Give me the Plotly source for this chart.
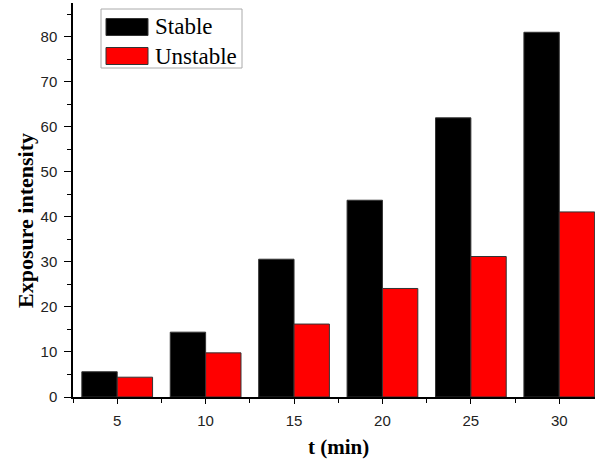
import plotly.graph_objects as go

t_min = [5, 10, 15, 20, 25, 30]
stable = [5.6, 14.4, 30.6, 43.7, 62.0, 81.0]
unstable = [4.4, 9.8, 16.2, 24.1, 31.2, 41.1]
series_names = ["Stable", "Unstable"]
series_colors = ["#000000", "#ff0000"]
x_title = "t (min)"
y_title = "Exposure intensity"

fig = go.Figure()
for name, vals, col in zip(series_names, [stable, unstable], series_colors):
    fig.add_trace(go.Bar(
        x=t_min, y=vals, name=name, showlegend=False,
        marker=dict(color=col, line=dict(color="#333333", width=1)),
    ))

W, H = 595, 462
ml, mr, mt, mb = 73, 0, 3, 65
pw, ph = W - ml - mr, H - mt - mb

def px_to_paper(x, y):
    return (x - ml) / pw, (H - mb - y) / ph

# custom legend (wide swatches like the original)
lx0, ly0 = px_to_paper(101, 9)
lx1, ly1 = px_to_paper(242, 68)
fig.add_shape(type="rect", xref="paper", yref="paper", x0=lx0, y0=ly1, x1=lx1, y1=ly0,
              line=dict(color="#aaaaaa", width=1), fillcolor="white", layer="above")
row_y = [27, 56]
for name, col, ry in zip(series_names, series_colors, row_y):
    sx0, sy0 = px_to_paper(106, ry - 8.5)
    sx1, sy1 = px_to_paper(148, ry + 8.5)
    fig.add_shape(type="rect", xref="paper", yref="paper", x0=sx0, y0=sy1, x1=sx1, y1=sy0,
                  line=dict(color="#333333", width=1), fillcolor=col, layer="above")
    tx, ty = px_to_paper(153, ry)
    fig.add_annotation(text=name, xref="paper", yref="paper", x=tx, y=ty,
                       xanchor="left", yanchor="middle", showarrow=False,
                       font=dict(family="Liberation Serif", size=23, color="#000000"))

# axis titles
ax, ay = px_to_paper(25, 221)
fig.add_annotation(text="<b>" + y_title + "</b>", xref="paper", yref="paper", x=ax, y=ay,
                   textangle=-90, xanchor="center", yanchor="middle", showarrow=False,
                   font=dict(family="Liberation Serif", size=22, color="#000000"))
bx, by = px_to_paper(338, 447)
fig.add_annotation(text="<b>" + x_title + "</b>", xref="paper", yref="paper", x=bx, y=by,
                   xanchor="center", yanchor="middle", showarrow=False,
                   font=dict(family="Liberation Serif", size=21, color="#000000"))

fig.update_layout(
    width=W, height=H,
    margin=dict(l=ml, r=mr, t=mt, b=mb),
    paper_bgcolor="white", plot_bgcolor="white",
    barmode="group", bargap=0.2, bargroupgap=0,
    font=dict(family="Liberation Sans", size=15, color="#222222"),
)
fig.update_xaxes(
    range=[2.5, 32.02], tickmode="linear", tick0=5, dtick=5,
    showgrid=False, zeroline=False, showline=True, linecolor="#000000", linewidth=1.5,
    ticks="outside", ticklen=5, tickwidth=1.2, tickcolor="#000000",
    ticklabelstandoff=4,
    minor=dict(tick0=5, dtick=2.5, ticks="outside", ticklen=4, tickwidth=1, tickcolor="#000000"),
)
fig.update_yaxes(
    range=[0, 87.5], tickmode="linear", tick0=0, dtick=10,
    showgrid=False, zeroline=False, showline=True, linecolor="#000000", linewidth=1.5,
    ticks="outside", ticklen=7, tickwidth=1.2, tickcolor="#000000",
    ticklabelstandoff=4,
    minor=dict(tick0=0, dtick=5, ticks="outside", ticklen=4, tickwidth=1, tickcolor="#000000"),
)

fig.write_html("out.html", config={"displayModeBar": False},
               post_script="document.body.style.margin='0';document.body.style.overflow='hidden';")
